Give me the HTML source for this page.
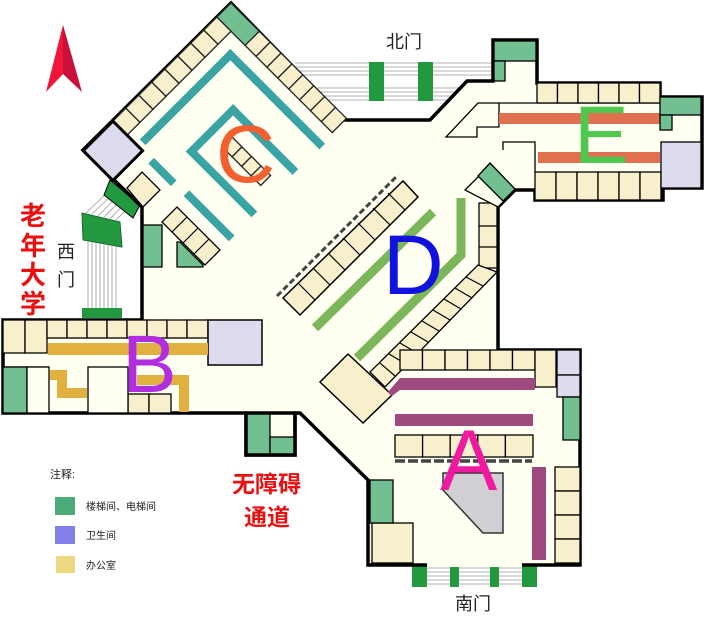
<!DOCTYPE html>
<html><head><meta charset="utf-8"><style>
html,body{margin:0;padding:0;background:#fff;width:720px;height:620px;overflow:hidden}
svg{display:block}
.cj{font-family:"Liberation Sans","Noto Sans CJK SC",sans-serif}
</style></head><body>
<svg width="720" height="620" viewBox="0 0 720 620" xmlns="http://www.w3.org/2000/svg">
<!-- north arrow -->
<polygon points="63,25 82,92 63,74" fill="#c8103a"/>
<polygon points="63,25 46,92 63,74" fill="#f0153a"/>

<!-- west door -->
<g stroke="#999" stroke-width="0.8">
<line x1="88" y1="240" x2="88" y2="310"/><line x1="92" y1="240" x2="92" y2="310"/><line x1="96" y1="241" x2="96" y2="310"/><line x1="100" y1="242" x2="100" y2="310"/><line x1="104" y1="243" x2="104" y2="310"/><line x1="108" y1="244" x2="108" y2="310"/><line x1="112" y1="245" x2="112" y2="310"/><line x1="116" y1="246" x2="116" y2="310"/>
<line x1="86" y1="213" x2="110" y2="190"/><line x1="92" y1="214" x2="114" y2="193"/><line x1="98" y1="216" x2="118" y2="196"/><line x1="104" y1="217" x2="122" y2="199"/><line x1="110" y1="219" x2="126" y2="202"/><line x1="116" y1="220" x2="130" y2="206"/>
</g>
<polygon points="82,213 120,222 122,247 83,240" fill="#22993f" stroke="#1a6a30" stroke-width="1"/>
<polygon points="110,180 140,205 133,218 104,195" fill="#22993f" stroke="#000" stroke-width="1"/>
<rect x="82" y="308" width="40" height="10" fill="#22993f"/>

<!-- north door -->
<g stroke="#999" stroke-width="0.8">
<line x1="295" y1="63" x2="493" y2="63"/><line x1="295" y1="67" x2="493" y2="67"/><line x1="295" y1="71" x2="493" y2="71"/><line x1="295" y1="75" x2="493" y2="75"/>
<line x1="310" y1="88" x2="480" y2="88"/><line x1="310" y1="92" x2="476" y2="92"/><line x1="318" y1="96" x2="472" y2="96"/><line x1="322" y1="100" x2="468" y2="100"/>
</g>
<rect x="369" y="62" width="15" height="39" fill="#22993f"/>
<rect x="418" y="62" width="15" height="39" fill="#22993f"/>

<!-- south door -->
<g stroke="#999" stroke-width="0.8">
<line x1="412" y1="568" x2="537" y2="568"/><line x1="412" y1="572" x2="537" y2="572"/><line x1="412" y1="576" x2="537" y2="576"/><line x1="412" y1="580" x2="537" y2="580"/><line x1="412" y1="584" x2="537" y2="584"/>
</g>
<rect x="412" y="562" width="15" height="25" fill="#22993f"/>
<rect x="450" y="562" width="9" height="25" fill="#22993f"/>
<rect x="490" y="562" width="9" height="25" fill="#22993f"/>
<rect x="522" y="562" width="15" height="25" fill="#22993f"/>

<!-- building outline -->
<polygon points="231,3 345,120 430,120 467,81 493,81 493,40 537,40 537,83 660,83 660,97 702,97 702,188 663,188 663,200 535,200 535,190 515,190 498,207 498,350 580,350 580,565 412,565 368,565 368,480 300,413 295,413 295,455 246,455 246,413 3,413 3,320 142,320 142,207 83,150" fill="#fffff2" stroke="#000" stroke-width="3.5" stroke-linejoin="miter"/>
<line x1="427" y1="565" x2="522" y2="565" stroke="#fffff2" stroke-width="4"/>

<!-- wing C (rotated) -->
<g transform="translate(231,3) rotate(45)" stroke="#222" stroke-width="1.3">
<rect x="0" y="0" width="40" height="20" fill="#72bf92"/>
<g fill="#f8f0cc">
<rect x="40" y="0" width="15.4" height="20"/><rect x="55.4" y="0" width="15.4" height="20"/><rect x="70.8" y="0" width="15.4" height="20"/><rect x="86.2" y="0" width="15.4" height="20"/><rect x="101.6" y="0" width="15.4" height="20"/><rect x="117" y="0" width="15.4" height="20"/><rect x="132.4" y="0" width="15.4" height="20"/><rect x="147.8" y="0" width="15.4" height="20"/>
<rect x="0" y="20" width="20" height="18.4"/><rect x="0" y="38.4" width="20" height="18.4"/><rect x="0" y="56.8" width="20" height="18.4"/><rect x="0" y="75.2" width="20" height="18.4"/><rect x="0" y="93.6" width="20" height="18.4"/><rect x="0" y="112" width="20" height="18.4"/><rect x="0" y="130.4" width="20" height="18.4"/><rect x="0" y="148.8" width="20" height="18.4"/>
<rect x="96" y="94" width="13.5" height="14"/><rect x="109.5" y="94" width="13.5" height="14"/><rect x="123" y="94" width="13.5" height="14"/><rect x="136.5" y="94" width="13.5" height="14"/>
</g>
<rect x="0" y="167" width="42" height="42" fill="#dcdcee" stroke="#000" stroke-width="3"/>
<g stroke="none" fill="#3aa3a3">
<rect x="32" y="33" width="8" height="128"/><rect x="32" y="33" width="134" height="8"/>
<rect x="73" y="70" width="8" height="67"/><rect x="73" y="70" width="92" height="8"/><rect x="73" y="129" width="93" height="8"/>
<rect x="55" y="164" width="32" height="8"/><rect x="103" y="162" width="64" height="8"/>
</g>
</g>
<!-- C small offices near west -->
<polygon points="127,188 142,172 160,190 143,207" fill="#f8f0cc" stroke="#000" stroke-width="1.3"/>
<polygon points="162,222 177,207 220,250 205,265" fill="#f8f0cc" stroke="#000" stroke-width="1.3"/>
<line x1="172" y1="232" x2="187" y2="217" stroke="#000" stroke-width="1.2"/><line x1="183" y1="243" x2="198" y2="228" stroke="#000" stroke-width="1.2"/><line x1="194" y1="254" x2="209" y2="239" stroke="#000" stroke-width="1.2"/>
<rect x="143" y="225" width="19" height="42" fill="#72bf92" stroke="#000" stroke-width="1.3"/>
<polygon points="177,242 180,242 203,265 203,267 177,267" fill="#72bf92" stroke="#000" stroke-width="1.3"/>

<!-- D area -->
<line x1="277" y1="296" x2="398" y2="175" stroke="#444" stroke-width="3" stroke-dasharray="6,3"/>
<polygon points="283,298 300,315 418,197 403,181" fill="#f8f0cc" stroke="#000" stroke-width="1.5"/>
<g stroke="#000" stroke-width="1.2">
<line x1="298" y1="283" x2="315" y2="300"/><line x1="313" y1="268" x2="330" y2="285"/><line x1="328" y1="253" x2="345" y2="270"/><line x1="343" y1="238" x2="360" y2="255"/><line x1="358" y1="223" x2="375" y2="240"/><line x1="373" y1="208" x2="390" y2="225"/><line x1="388" y1="193" x2="405" y2="210"/>
</g>
<line x1="315" y1="328" x2="433" y2="212" stroke="#7cb65a" stroke-width="9"/>
<polyline points="357,358 461,255 461,198" fill="none" stroke="#7cb65a" stroke-width="9"/>
<rect x="479" y="203" width="18" height="65" fill="#f8f0cc" stroke="#000" stroke-width="1.3"/>
<line x1="479" y1="226" x2="497" y2="226" stroke="#000" stroke-width="1.2"/><line x1="479" y1="247" x2="497" y2="247" stroke="#000" stroke-width="1.2"/>
<polygon points="478,265 497,272 385,387 370,372" fill="#f8f0cc" stroke="#000" stroke-width="1.3"/>
<g stroke="#000" stroke-width="1.2">
<line x1="466" y1="277" x2="483" y2="286"/><line x1="455" y1="288" x2="472" y2="298"/><line x1="444" y1="299" x2="461" y2="309"/><line x1="433" y1="310" x2="450" y2="320"/><line x1="422" y1="321" x2="439" y2="331"/><line x1="411" y1="332" x2="428" y2="342"/><line x1="400" y1="343" x2="417" y2="353"/><line x1="389" y1="354" x2="406" y2="364"/><line x1="380" y1="363" x2="395" y2="376"/>
</g>
<polygon points="465,190 480,175 515,190 498,207" fill="#fffff2" stroke="#000" stroke-width="1.3"/>
<polygon points="478,176 490,163 515,189 503,201" fill="#72bf92" stroke="#000" stroke-width="1.3"/>
<polygon points="320,382 348,354 392,395 363,423" fill="#f8f0cc" stroke="#000" stroke-width="1.5"/>

<!-- E wing -->
<polygon points="478,103 660,103 660,142 535,142 535,172 535,142 503,142 498,150 498,142 477,137 446,137 478,103" fill="none" stroke="none"/>
<polyline points="660,103 478,103 446,137 477,137 477,127 499,127 499,103" fill="none" stroke="#000" stroke-width="1.3"/>
<polyline points="503,150 503,142 535,142 535,172" fill="none" stroke="#000" stroke-width="1.3"/>
<g fill="#f8f0cc" stroke="#000" stroke-width="1.3">
<rect x="537" y="83" width="20.5" height="20"/><rect x="557.5" y="83" width="20.5" height="20"/><rect x="578" y="83" width="20.5" height="20"/><rect x="598.5" y="83" width="20.5" height="20"/><rect x="619" y="83" width="20.5" height="20"/><rect x="639.5" y="83" width="20.5" height="20"/>
<rect x="535" y="172" width="21" height="28"/><rect x="556" y="172" width="21" height="28"/><rect x="577" y="172" width="21" height="28"/><rect x="598" y="172" width="21" height="28"/><rect x="619" y="172" width="21" height="28"/><rect x="640" y="172" width="21" height="28"/>
</g>
<rect x="499" y="113" width="161" height="11" fill="#e07050"/>
<rect x="538" y="152" width="122" height="11" fill="#e07050"/>
<rect x="660" y="97" width="41" height="18" fill="#72bf92" stroke="#000" stroke-width="1.3"/>
<rect x="660" y="115" width="12" height="15" fill="#72bf92" stroke="#000" stroke-width="1.3"/>
<rect x="661" y="142" width="40" height="46" fill="#dcdcee" stroke="#000" stroke-width="1.3"/>
<rect x="494" y="41" width="42" height="20" fill="#72bf92" stroke="#000" stroke-width="1.3"/>
<rect x="494" y="61" width="11" height="20" fill="#72bf92" stroke="#000" stroke-width="1.3"/>

<!-- A area -->
<g fill="#f8f0cc" stroke="#000" stroke-width="1.3">
<rect x="400" y="350" width="22.5" height="20"/><rect x="422.5" y="350" width="22.5" height="20"/><rect x="445" y="350" width="22.5" height="20"/><rect x="467.5" y="350" width="22.5" height="20"/><rect x="490" y="350" width="22.5" height="20"/><rect x="512.5" y="350" width="22.5" height="20"/>
<rect x="535" y="350" width="21" height="37"/>
<rect x="395" y="435" width="27.6" height="22"/><rect x="422.6" y="435" width="27.6" height="22"/><rect x="450.2" y="435" width="27.6" height="22"/><rect x="477.8" y="435" width="27.6" height="22"/><rect x="505.4" y="435" width="27.6" height="22"/>
<rect x="555" y="467" width="25" height="24"/><rect x="555" y="491" width="25" height="24"/><rect x="555" y="515" width="25" height="24"/><rect x="555" y="539" width="25" height="24"/>
<rect x="372" y="523" width="41" height="40"/>
</g>
<rect x="557" y="350" width="23" height="25" fill="#dcdcee" stroke="#000" stroke-width="1.3"/>
<rect x="557" y="375" width="23" height="22" fill="#dcdcee" stroke="#000" stroke-width="1.3"/>
<rect x="563" y="397" width="17" height="43" fill="#72bf92" stroke="#000" stroke-width="1.3"/>
<rect x="370" y="480" width="23" height="43" fill="#72bf92" stroke="#000" stroke-width="1.3"/>
<polygon points="400,378 535,378 535,390 400,390 392,396 388,392" fill="#9e4a7e"/>
<rect x="395" y="414" width="138" height="12" fill="#9e4a7e"/>
<rect x="532" y="467" width="14" height="93" fill="#9e4a7e"/>
<line x1="395" y1="461" x2="532" y2="461" stroke="#444" stroke-width="3.5" stroke-dasharray="10,3"/>
<polygon points="443,473 503,473 503,533 483,533 443,490" fill="#d0d0d4" stroke="#333" stroke-width="1.5"/>

<!-- B area -->
<g fill="#f8f0cc" stroke="#000" stroke-width="1.3">
<rect x="3" y="320" width="22" height="33"/><rect x="25" y="320" width="22" height="33"/>
<rect x="47" y="320" width="20" height="18"/><rect x="67" y="320" width="20" height="18"/><rect x="87" y="320" width="20" height="18"/><rect x="107" y="320" width="20" height="18"/><rect x="127" y="320" width="20" height="18"/><rect x="147" y="320" width="20" height="18"/><rect x="167" y="320" width="20" height="18"/><rect x="187" y="320" width="21" height="18"/>
<rect x="128" y="394" width="21" height="19"/><rect x="149" y="394" width="22" height="19"/>
</g>
<rect x="208" y="320" width="54" height="45" fill="#dcdcee" stroke="#000" stroke-width="1.5"/>
<rect x="48" y="343" width="160" height="12" fill="#e0b040"/>
<polyline points="49,367 3,367" stroke="#000" stroke-width="1.3"/>
<rect x="3" y="367" width="24" height="46" fill="#72bf92" stroke="#000" stroke-width="1.3"/>
<rect x="27" y="367" width="22" height="46" fill="#fffff2" stroke="#000" stroke-width="1.3"/>
<rect x="88" y="367" width="40" height="46" fill="#fffff2" stroke="#000" stroke-width="1.3"/>
<polyline points="50,375 62,375 62,393 87,393" fill="none" stroke="#e0b040" stroke-width="10"/>
<polyline points="137,380 184,380 184,412" fill="none" stroke="#e0b040" stroke-width="10"/>
<rect x="246" y="413" width="24" height="42" fill="#72bf92" stroke="#000" stroke-width="1.3"/>
<rect x="270" y="437" width="25" height="18" fill="#72bf92" stroke="#000" stroke-width="1.3"/>
<rect x="246" y="413" width="49" height="42" fill="none" stroke="#000" stroke-width="3.5"/>

<!-- letters -->
<g font-family="Liberation Sans, sans-serif">
<text x="216" y="182" font-size="82" fill="#f06030">C</text>
<text x="383" y="294" font-size="84" fill="#1212e0">D</text>
<text x="574" y="163" font-size="82" fill="#50c850">E</text>
<text x="122" y="392" font-size="82" fill="#b02ee0">B</text>
<text x="440" y="490" font-size="86" fill="#f01aa0">A</text>
</g>

<!-- labels -->
<g class="cj">
<text x="386" y="48" font-size="18" fill="#222">北门</text>
<text x="455" y="610" font-size="18" fill="#222">南门</text>
<text x="57" y="258" font-size="18" fill="#222">西</text>
<text x="57" y="286" font-size="18" fill="#222">门</text>
<g font-size="26" font-weight="bold" fill="#e81010">
<text x="20" y="225">老</text><text x="20" y="255">年</text><text x="20" y="284">大</text><text x="20" y="313">学</text>
</g>
<g font-size="23" font-weight="bold" fill="#e81010">
<text x="232" y="492">无障碍</text>
<text x="244" y="525">通道</text>
</g>
<text x="50" y="478" font-size="11" fill="#222">注释:</text>
<rect x="55" y="497" width="20" height="18" fill="#4aaa78"/>
<rect x="55" y="526" width="20" height="18" fill="#8080e8"/>
<rect x="56" y="556" width="19" height="17" fill="#ecd880"/>
<text x="86" y="510" font-size="10" fill="#222">楼梯间、电梯间</text>
<text x="86" y="539" font-size="10" fill="#222">卫生间</text>
<text x="86" y="569" font-size="10" fill="#222">办公室</text>
</g>
</svg>
</body></html>
